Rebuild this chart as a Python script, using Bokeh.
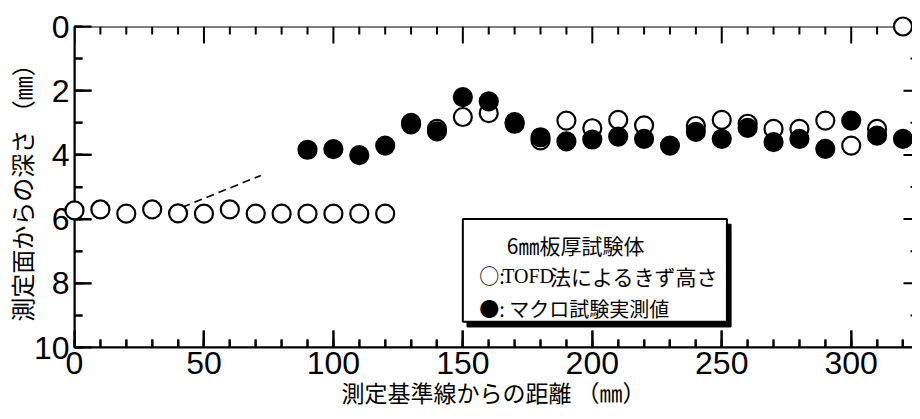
from bokeh.plotting import figure
from bokeh.models import Range1d, SingleIntervalTicker, BoxAnnotation, Label
from bokeh.embed import file_html
from bokeh.resources import INLINE

# --- data ---
x_tofd = [0, 10, 20, 30, 40, 50, 60, 70, 80, 90, 100, 110, 120,
          130, 140, 150, 160, 170, 180, 190, 200, 210, 220,
          240, 250, 260, 270, 280, 290, 300, 310, 320]
d_tofd = [5.73, 5.70, 5.83, 5.70, 5.82, 5.83, 5.70, 5.83, 5.83, 5.83, 5.83, 5.83, 5.83,
          3.00, 3.19, 2.82, 2.70, 2.98, 3.55, 2.93, 3.17, 2.91, 3.08,
          3.10, 2.91, 3.03, 3.19, 3.19, 2.93, 3.71, 3.19, 0.0]

x_macro = [90, 100, 110, 120, 130, 140, 150, 160, 170, 180, 190, 200, 210, 220,
           230, 240, 250, 260, 270, 280, 290, 300, 310, 320]
d_macro = [3.84, 3.82, 4.01, 3.71, 3.05, 3.27, 2.20, 2.33, 3.03, 3.45, 3.58, 3.52, 3.43, 3.50,
           3.71, 3.28, 3.50, 3.16, 3.60, 3.50, 3.81, 2.93, 3.40, 3.50]

guide_x = [37, 72]
guide_y = [5.78, 4.64]

x_major_ticks = [0, 50, 100, 150, 200, 250, 300]
x_minor_ticks = [10, 20, 30, 40, 60, 70, 80, 90, 110, 120, 130, 140, 160, 170, 180, 190,
                 210, 220, 230, 240, 260, 270, 280, 290, 310, 320]
y_major_ticks = [0, 2, 4, 6, 8, 10]
y_minor_ticks = [1, 3, 5, 7, 9]
y_min, y_max = 0, 10

x_title = "測定基準線からの距離 （㎜）"
y_title = "測定面からの深さ （㎜）"
legend_title = "6㎜板厚試験体"
legend_open_mark = "○:"
legend_open_a = "TOFD"
legend_open_b = "法によるきず高さ"
legend_fill = "●:  マクロ試験実測値"

TICK_FONT = "Liberation Sans"
JP_FONT = "Noto Sans CJK JP"

W, H = 912, 411
BORDER_L, BORDER_T, BORDER_B = 74, 26, 64
PX_X = 2.589
frame_w = W - BORDER_L
frame_h = H - BORDER_T - BORDER_B
x_end = frame_w / PX_X
PX_Y = frame_h / (y_max - y_min)

p = figure(width=W, height=H, output_backend="svg", toolbar_location=None,
           x_range=Range1d(0, x_end), y_range=Range1d(y_max, y_min),
           min_border_left=BORDER_L, min_border_right=0,
           min_border_top=BORDER_T, min_border_bottom=BORDER_B,
           x_axis_label=x_title, y_axis_label=y_title)
p.title.visible = False
p.grid.visible = False
p.outline_line_color = None
p.background_fill_color = "white"
p.border_fill_color = "white"

# library axes: tick labels, titles, rule and inward ticks
for ax, interval, minor in ((p.xaxis[0], 50, 5), (p.yaxis[0], 2, 2)):
    ax.ticker = SingleIntervalTicker(interval=interval, num_minor_ticks=minor)
    ax.axis_line_color = "black"
    ax.axis_line_width = 2
    ax.major_tick_line_color = "black"
    ax.minor_tick_line_color = "black"
    ax.major_tick_line_width = 2
    ax.minor_tick_line_width = 2
    ax.major_tick_in = 17
    ax.major_tick_out = 0
    ax.minor_tick_in = 8
    ax.minor_tick_out = 0
    ax.major_label_text_font = TICK_FONT
    ax.major_label_text_font_size = "32px"
    ax.major_label_text_color = "black"
    ax.axis_label_text_font = JP_FONT
    ax.axis_label_text_font_style = "normal"
    ax.axis_label_text_color = "black"
p.xaxis[0].major_label_standoff = 4
p.xaxis[0].axis_label_standoff = -2
p.xaxis[0].axis_label_text_font_size = "23px"
p.yaxis[0].major_label_standoff = 5
p.yaxis[0].axis_label_standoff = -8
p.yaxis[0].axis_label_text_font_size = "24px"

# axis box and inward ticks, drawn as thin filled boxes (2 px thick)
MAJ, MIN = 17, 8
hx, hy = 1 / PX_X, 1 / PX_Y


def bar(left, right, top, bottom):
    p.add_layout(BoxAnnotation(left=left, right=right, top=top, bottom=bottom,
                               fill_color="black", fill_alpha=1, line_color=None))


bar(-hx, x_end, y_max - hy, y_max + hy)      # bottom axis line
bar(-hx, x_end, y_min - hy, y_min + hy)      # top axis line
bar(-hx, hx, y_min - hy, y_max + hy)         # left axis line
for ticks, length in ((x_major_ticks, MAJ), (x_minor_ticks, MIN)):
    for t in ticks:
        bar(t - hx, t + hx, y_max - length / PX_Y, y_max)
        bar(t - hx, t + hx, y_min, y_min + length / PX_Y)
for ticks, length, rlen in ((y_major_ticks, MAJ, 9), (y_minor_ticks, MIN, 2)):
    for t in ticks:
        bar(0, length / PX_X, t - hy, t + hy)
        bar(x_end - rlen / PX_X, x_end, t - hy, t + hy)

# dashed guide
p.line(guide_x, guide_y, line_dash="8 5", line_width=1.6, color="black")

# markers
r1 = p.scatter(x_tofd, d_tofd, marker="circle", size=18, fill_color="white",
               line_color="black", line_width=2.2)
r2 = p.scatter(x_macro, d_macro, marker="circle", size=18, fill_color="black",
               line_color="black", line_width=2.2)
r1.level = "overlay"
r2.level = "overlay"

# legend box with shadow
p.add_layout(BoxAnnotation(left=151.6, right=253.6, top=6.16, bottom=9.36,
                           fill_color="black", fill_alpha=1, line_color="black",
                           line_alpha=1, line_width=1))
p.add_layout(BoxAnnotation(left=150, right=252, top=6.0, bottom=9.2,
                           fill_color="white", fill_alpha=1, line_color="black",
                           line_alpha=1, line_width=2))

p.add_layout(Label(x=167, y=6.82, text=legend_title, text_font=JP_FONT,
                   text_font_size="21px", text_baseline="middle", text_color="black"))
p.add_layout(Label(x=156.3, y=7.76, text=legend_open_mark, text_font=JP_FONT,
                   text_font_size="20px", text_baseline="middle", text_color="black"))
p.add_layout(Label(x=165.2, y=7.76, text=legend_open_a, text_font="Liberation Serif",
                   text_font_size="20px", text_baseline="middle", text_color="black"))
p.add_layout(Label(x=183.7, y=7.76, text=legend_open_b, text_font=JP_FONT,
                   text_font_size="21px", text_baseline="middle", text_color="black"))
p.add_layout(Label(x=156.3, y=8.78, text=legend_fill, text_font=JP_FONT,
                   text_font_size="20px", text_baseline="middle", text_color="black"))

open("out.html", "w").write(file_html(p, INLINE))
